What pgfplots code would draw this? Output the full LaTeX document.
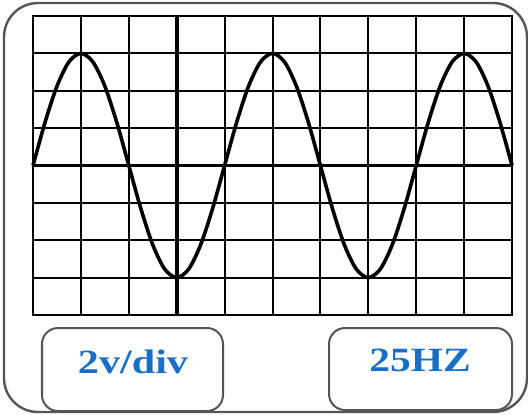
\documentclass[border=0pt]{standalone}
\usepackage{fontspec}
\setmainfont{Liberation Serif}
\usepackage{pgfplots}
\pgfplotsset{compat=1.18}
\definecolor{labelblue}{RGB}{25,110,200}
\definecolor{framegray}{RGB}{85,85,85}

\begin{document}
\begin{tikzpicture}
% pixel grid of the reference: 1 px = 0.5pt, origin at the lower left of the screen grid
\begin{scope}[x=0.5pt,y=-0.5pt,shift={(-16.5pt,157.5pt)}]
  \useasboundingbox (0,0) rectangle (528,414);
  \draw[line width=1.2pt, framegray, rounded corners=17pt] (4,3) rectangle (527,412);
  \draw[line width=1pt, framegray, rounded corners=8pt] (42,328) rectangle (223,411);
  \draw[line width=1pt, framegray, rounded corners=8pt] (329,328) rectangle (512,410);
  \node[text=labelblue, font=\fontsize{17}{20}\selectfont\bfseries] at (133,362) {\scalebox{1.24}[1]{2v/div}};
  \node[text=labelblue, font=\fontsize{17}{20}\selectfont\bfseries] at (420,360) {\scalebox{1.22}[1]{25HZ}};
\end{scope}

\begin{axis}[
  scale only axis,
  width=239.5pt, height=149.5pt,
  xmin=0, xmax=10, ymin=-4, ymax=4,
  xtick={0,...,10}, ytick={-4,...,4},
  xticklabels={}, yticklabels={},
  major tick length=0pt,
  grid=major,
  grid style={black, line width=1pt},
  axis line style={black, line width=1pt},
  clip=false,
]
  % centre lines of the screen
  \addplot[black, line width=2pt] coordinates {(3,-4) (3,4)};
  \addplot[black, line width=1.6pt] coordinates {(0,0) (10,0)};
  % the trace: 3 div amplitude, 4 div period
  \addplot[black, line width=1.8pt, smooth] coordinates {
    (0,0) (0.25,1.148) (0.5,2.121) (0.75,2.772) (1,3) (1.25,2.772) (1.5,2.121) (1.75,1.148)
    (2,0) (2.25,-1.148) (2.5,-2.121) (2.75,-2.772) (3,-3) (3.25,-2.772) (3.5,-2.121) (3.75,-1.148)
    (4,0) (4.25,1.148) (4.5,2.121) (4.75,2.772) (5,3) (5.25,2.772) (5.5,2.121) (5.75,1.148)
    (6,0) (6.25,-1.148) (6.5,-2.121) (6.75,-2.772) (7,-3) (7.25,-2.772) (7.5,-2.121) (7.75,-1.148)
    (8,0) (8.25,1.148) (8.5,2.121) (8.75,2.772) (9,3) (9.25,2.772) (9.5,2.121) (9.75,1.148)
    (10,0)
  };
\end{axis}
\end{tikzpicture}
\end{document}
